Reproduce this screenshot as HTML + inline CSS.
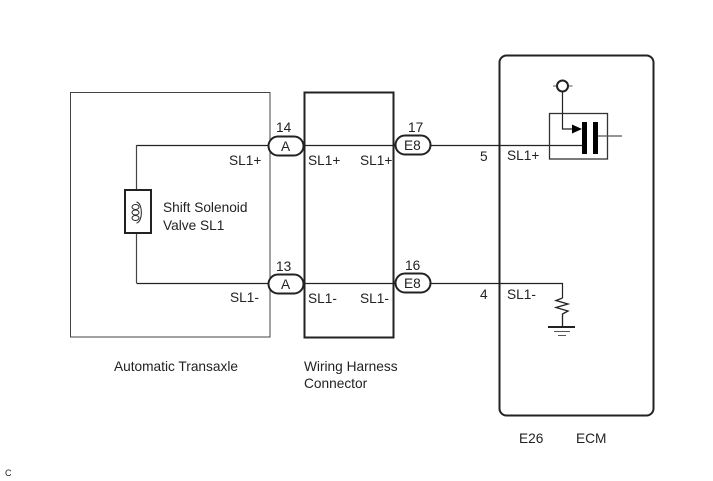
<!DOCTYPE html>
<html><head><meta charset="utf-8"><style>
html,body{margin:0;padding:0;background:#fff}
svg{display:block}
text{font-family:"Liberation Sans",sans-serif;font-size:13.7px;fill:#222}
</style></head><body>
<svg width="713" height="481" viewBox="0 0 713 481" xmlns="http://www.w3.org/2000/svg">
<g fill="none" stroke="#222">
<rect x="70.500" y="92.500" width="199.500" height="244.500" stroke="#444" stroke-width="1"/>
<rect x="304.5" y="92.5" width="89" height="245" stroke-width="2"/>
<rect x="499.5" y="55.5" width="154" height="360" rx="7" stroke-width="2"/>
<path d="M136.500 145.500H268M304 145.500H395M430 145.500H582" stroke-width="1.200"/>
<path d="M136.500 283.500H268M304 283.500H395M430 283.500H562.500V298" stroke-width="1.200"/>
<path d="M136.500 145V190M136.500 233V283" stroke="#444" stroke-width="1.200"/>
<rect x="125" y="190" width="26" height="43" stroke-width="2"/>
<path d="M136.500 202C143 203 143 222 136.500 223" stroke-width="1"/>
<ellipse cx="135.500" cy="207" rx="3.500" ry="2.500" stroke-width="1"/>
<ellipse cx="135.500" cy="212.500" rx="3.500" ry="2.500" stroke-width="1"/>
<ellipse cx="135.500" cy="218" rx="3.500" ry="2.500" stroke-width="1"/>
<rect x="268.500" y="136.500" width="35" height="19" rx="9.500" stroke-width="2" fill="#fff"/>
<rect x="268.500" y="274.500" width="35" height="19" rx="9.500" stroke-width="2" fill="#fff"/>
<rect x="395.500" y="135.500" width="35" height="19" rx="9.500" stroke-width="2" fill="#fff"/>
<rect x="395.500" y="273.500" width="35" height="19" rx="9.500" stroke-width="2" fill="#fff"/>
<rect x="549.500" y="113.500" width="58" height="45.500" stroke="#333" stroke-width="1.300"/>
<path d="M598 136H622" stroke="#555" stroke-width="1.200"/>
<path d="M553 86H572.500" stroke="#555" stroke-width="1"/>
<circle cx="562.500" cy="86" r="5.500" stroke-width="2" fill="#fff"/>
<path d="M562.500 91V129H573" stroke-width="1.200"/>
<path d="M562.500 298L556 300.500L568 304L556 307.500L568 311L562.500 314V327" stroke-width="1.300"/>
<path d="M548 327H575" stroke-width="2"/>
<path d="M554 331.500H570M558 335.500H566" stroke="#555" stroke-width="1"/>
</g>
<rect x="582" y="122" width="5" height="32" fill="#000"/>
<rect x="593" y="122" width="5" height="32" fill="#000"/>
<path d="M572 124.500L582 129L572 133.500Z" fill="#000"/>
<text x="276" y="132">14</text>
<text x="276" y="271">13</text>
<text x="408" y="132">17</text>
<text x="405" y="270">16</text>
<text x="281" y="151">A</text>
<text x="281" y="289">A</text>
<text x="404" y="150">E8</text>
<text x="404" y="288">E8</text>
<text x="229" y="165">SL1+</text>
<text x="308" y="165">SL1+</text>
<text x="360" y="165">SL1+</text>
<text x="507" y="160">SL1+</text>
<text x="230" y="302">SL1-</text>
<text x="308" y="303">SL1-</text>
<text x="360" y="303">SL1-</text>
<text x="507" y="299">SL1-</text>
<text x="480" y="161">5</text>
<text x="480" y="299">4</text>
<text x="163" y="212">Shift Solenoid</text>
<text x="163" y="230">Valve SL1</text>
<text x="114" y="371">Automatic Transaxle</text>
<text x="304" y="371">Wiring Harness</text>
<text x="304" y="388">Connector</text>
<text x="519" y="443">E26</text>
<text x="576" y="443">ECM</text>
<text x="5" y="476" style="font-size:9px">C</text>
</svg>
</body></html>
